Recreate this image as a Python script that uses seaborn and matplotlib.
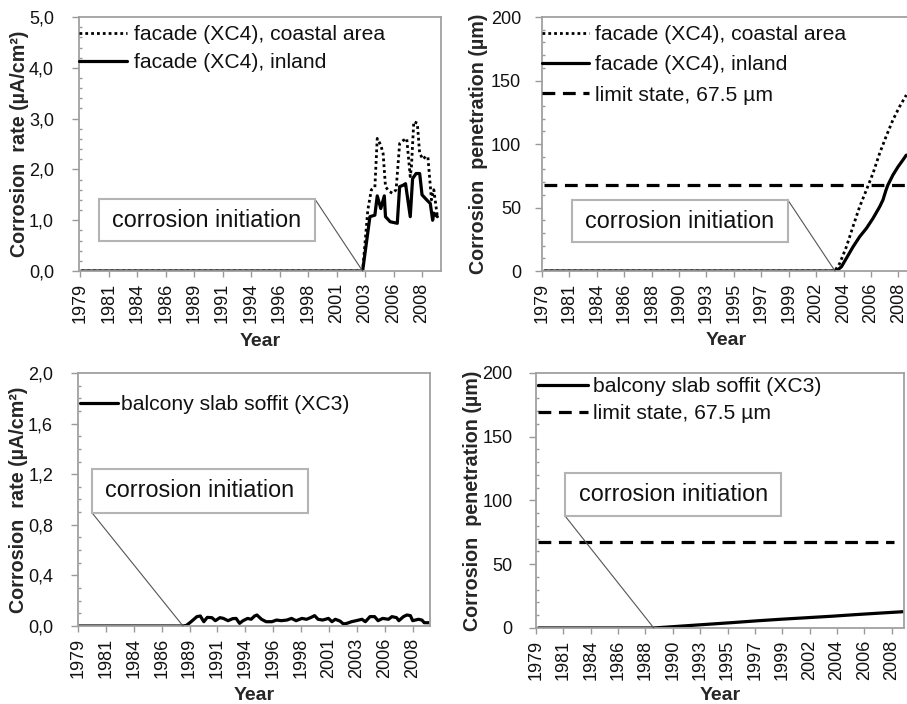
import matplotlib
matplotlib.use('Agg')
import matplotlib.pyplot as plt
from matplotlib.patches import Rectangle
from matplotlib.ticker import FuncFormatter, MultipleLocator
import numpy as np
import seaborn as sns

# --- data ---
ticks_a = ['1979', '1981', '1984', '1986', '1989', '1991', '1994', '1996', '1998',
           '2001', '2003', '2006', '2008']
ticks_b = ['1979', '1981', '1984', '1986', '1988', '1990', '1993', '1995', '1997',
           '1999', '2002', '2004', '2006', '2008']

# facade corrosion rate
coastal_rate_yr = [1979.1, 2002.96, 2003.4, 2003.7, 2004.0, 2004.2, 2004.5, 2004.7, 2004.9,
                   2005.2, 2005.5, 2005.8, 2006.1, 2006.4, 2006.7, 2007.0, 2007.1, 2007.3,
                   2007.6, 2007.8, 2008.1, 2008.3, 2008.5, 2008.8, 2009.0, 2009.3]
coastal_rate = [0, 0, 1.2, 1.6, 1.65, 2.61, 2.48, 2.31, 1.66, 1.57, 1.53, 1.60, 2.51, 2.57,
                2.61, 1.86, 2.05, 2.94, 2.91, 2.31, 2.2, 2.26, 2.24, 1.40, 1.60, 1.07]
inland_rate_yr = [1979.1, 2002.96, 2003.58, 2004.0, 2004.2, 2004.5, 2004.8, 2004.9, 2005.3,
                  2005.9, 2006.1, 2006.4, 2006.6, 2007.0, 2007.2, 2007.5, 2007.8, 2008.0,
                  2008.4, 2008.7, 2008.9, 2009.0, 2009.3]
inland_rate = [0, 0, 1.07, 1.10, 1.48, 1.23, 1.48, 1.07, 0.97, 0.94, 1.66, 1.69, 1.72, 1.07,
               1.82, 1.92, 1.92, 1.50, 1.40, 1.33, 1.0, 1.14, 1.07]

# facade corrosion penetration
coastal_pen_yr = [1979.2, 2002.82, 2003.23, 2003.77, 2004.31, 2004.85, 2005.4, 2005.94,
                  2006.48, 2007.0, 2007.56, 2008.1, 2008.65]
coastal_pen = [0, 0, 6, 19, 35, 50.6, 63.8, 77, 92.7, 105.8, 119, 129.4, 138.6]
inland_pen_yr = [1979.2, 2002.96, 2003.37, 2003.77, 2004.31, 2004.85, 2005.4, 2005.94,
                 2006.48, 2006.75, 2007.0, 2007.15, 2007.56, 2007.97, 2008.37, 2008.65]
inland_pen = [0, 0, 3.4, 10, 19, 27, 33.6, 41.5, 50.6, 56, 63.8, 67.7, 75.6, 82, 87.4, 91.3]

# balcony slab soffit
soffit_rate_yr = [1979.1, 1988.1, 1988.4, 1988.8, 1989.3, 1989.6, 1989.9, 1990.2, 1990.6,
                  1990.9, 1991.3, 1991.6, 1992.0, 1992.4, 1992.7, 1993.0, 1993.3, 1993.7,
                  1994.0, 1994.3, 1994.5, 1994.9, 1995.3, 1995.8, 1996.2, 1996.6, 1997.1,
                  1997.5, 1997.9, 1998.4, 1998.8, 1999.2, 1999.5, 1999.8, 2000.2, 2000.7,
                  2001.0, 2001.3, 2001.7, 2002.0, 2002.3, 2002.7, 2003.1, 2003.6, 2003.9,
                  2004.3, 2004.7, 2005.0, 2005.4, 2005.9, 2006.2, 2006.6, 2006.8, 2007.2,
                  2007.5, 2007.8, 2008.0, 2008.5, 2008.8, 2009.0, 2009.5]
soffit_rate = [0, 0, 0.005, 0.034, 0.074, 0.079, 0.034, 0.068, 0.066, 0.042, 0.066, 0.06,
               0.042, 0.058, 0.06, 0.021, 0.042, 0.06, 0.053, 0.079, 0.087, 0.053, 0.034,
               0.034, 0.047, 0.042, 0.047, 0.06, 0.042, 0.06, 0.053, 0.068, 0.082, 0.053,
               0.047, 0.06, 0.034, 0.053, 0.039, 0.016, 0.021, 0.034, 0.042, 0.053, 0.034,
               0.074, 0.074, 0.042, 0.06, 0.053, 0.074, 0.066, 0.042, 0.074, 0.087, 0.082,
               0.042, 0.053, 0.047, 0.026, 0.026]
soffit_pen_yr = [1979.2, 1988.6, 1990.0, 1992.4, 1995.0, 1997.0, 1998.9, 2001.0, 2003.1,
                 2005.1, 2007.1, 2009.0]
soffit_pen = [0, 0, 0.9, 2.5, 4.2, 5.6, 6.8, 8.0, 9.2, 10.5, 11.7, 12.8]

limit_value = 67.5
limit_yr_top = [1979.2, 2008.9]
limit_yr_bottom = [1979.2, 2008.2]

init_years = [2002.96, 2002.85, 1988.1, 1988.6]

# --- style ---
sns.set_theme(style='white')
plt.rcParams['font.family'] = ['Liberation Sans', 'DejaVu Sans']
plt.rcParams['text.color'] = '#111111'

fig = plt.figure(figsize=(9.07, 7.04), dpi=100)
ax_tl = fig.add_axes([0.0871, 0.615, 0.399, 0.3608])
ax_tr = fig.add_axes([0.5976, 0.615, 0.4057, 0.3608])
ax_bl = fig.add_axes([0.0860, 0.1108, 0.3881, 0.3594])
ax_br = fig.add_axes([0.5910, 0.108, 0.4057, 0.3622])

solid = dict(color='black', linewidth=2.3, linestyle='-')
dotted = dict(color='black', linewidth=2.0, linestyle=(0, (1, 1.1)))
dashed = dict(color='black', linewidth=2.3, linestyle=(0, (4, 2.4)))
common = dict(estimator=None, sort=False)

# top-left
sns.lineplot(x=coastal_rate_yr, y=coastal_rate, ax=ax_tl, label='facade (XC4), coastal area', **dotted, **common)
sns.lineplot(x=inland_rate_yr, y=inland_rate, ax=ax_tl, label='facade (XC4), inland', **solid, **common)
# top-right
sns.lineplot(x=coastal_pen_yr, y=coastal_pen, ax=ax_tr, label='facade (XC4), coastal area', **dotted, **common)
sns.lineplot(x=inland_pen_yr, y=inland_pen, ax=ax_tr, label='facade (XC4), inland', **solid, **common)
sns.lineplot(x=limit_yr_top, y=[limit_value] * len(limit_yr_top), ax=ax_tr,
             label='limit state, 67.5 µm', **dashed, **common)
# bottom-left
sns.lineplot(x=soffit_rate_yr, y=soffit_rate, ax=ax_bl, label='balcony slab soffit (XC3)', **solid, **common)
# bottom-right
sns.lineplot(x=soffit_pen_yr, y=soffit_pen, ax=ax_br, label='balcony slab soffit (XC3)', **solid, **common)
sns.lineplot(x=limit_yr_bottom, y=[limit_value] * len(limit_yr_bottom), ax=ax_br,
             label='limit state, 67.5 µm', **dashed, **common)

comma = FuncFormatter(lambda v, p: f'{v:.1f}'.replace('.', ','))
intfmt = FuncFormatter(lambda v, p: f'{v:.0f}')

setup = [
    # ax, xlim, ticklabels, ylim, major, minor, fmt, ylabel, ypad, ylabel_x, xlabel_y
    (ax_tl, (1978.9, 2009.6), ticks_a, (0, 5), 1.0, 0.2, comma,
     'Corrosion  rate (µA/cm²)', 13, -0.137, -0.244),
    (ax_tr, (1979.0, 2008.95), ticks_b, (0, 200), 50, 10, intfmt,
     'Corrosion  penetration (µm)', 10, -0.148, -0.24),
    (ax_bl, (1979.0, 2009.5), ticks_a, (0, 2.0), 0.4, 0.1, comma,
     'Corrosion  rate (µA/cm²)', 13, -0.143, -0.241),
    (ax_br, (1979.0, 2009.0), ticks_b, (0, 200), 50, 10, intfmt,
     'Corrosion  penetration (µm)', 12, -0.148, -0.231),
]

for ax, xlim, tlabels, ylim, major, minor, fmt, ylabel, ypad, ylx, xly in setup:
    ax.set_xlim(*xlim)
    ax.set_ylim(*ylim)
    ax.set_xticks(np.linspace(1979, 2008, len(tlabels)))
    ax.set_xticklabels(tlabels, rotation=90)
    ax.yaxis.set_major_locator(MultipleLocator(major))
    ax.yaxis.set_minor_locator(MultipleLocator(minor))
    ax.yaxis.set_major_formatter(fmt)
    ax.tick_params(axis='y', which='major', direction='out', length=5, width=1, color='#999999',
                   labelsize=13, pad=ypad, labelcolor='#111111', left=True)
    ax.tick_params(axis='y', which='minor', direction='in', length=2.5, width=1, color='#999999',
                   left=True)
    ax.tick_params(axis='x', which='major', direction='out', length=4.5, width=1, color='#999999',
                   labelsize=13, pad=4, labelcolor='#111111', bottom=True)
    for s in ax.spines.values():
        s.set_color('#a0a0a0')
        s.set_linewidth(1.3)
    ax.set_ylabel(ylabel, fontsize=14.2, fontweight='bold')
    ax.set_xlabel('Year', fontsize=14, fontweight='bold')
    ax.yaxis.set_label_coords(ylx, 0.5)
    ax.xaxis.set_label_coords(0.5, xly)

# legends
leg_cfg = [
    (ax_tl, (0.0, 0.968), 2.27, 0.33, 0.44),
    (ax_tr, (0.0, 0.968), 2.23, 0.28, 0.53),
    (ax_bl, (0.006, 0.913), 1.8, 0.15, 0.2),
    (ax_br, (0.005, 0.984), 2.37, 0.24, 0.39),
]
for ax, anchor, hl, htp, ls in leg_cfg:
    ax.legend(loc='upper left', bbox_to_anchor=anchor, frameon=False, fontsize=15.2,
              handlelength=hl, handletextpad=htp, labelspacing=ls, borderpad=0,
              borderaxespad=0)

# "corrosion initiation" callouts: box (x0, y0, x1, y1) in axes fraction, corner used for leader
callouts = [
    (ax_tl, (0.055, 0.118, 0.652, 0.283), (0.652, 0.283), init_years[0]),
    (ax_tr, (0.0815, 0.114, 0.668, 0.280), (0.668, 0.280), init_years[1]),
    (ax_bl, (0.040, 0.447, 0.653, 0.621), (0.040, 0.447), init_years[2]),
    (ax_br, (0.079, 0.439, 0.666, 0.608), (0.079, 0.439), init_years[3]),
]
for ax, (x0, y0, x1, y1), corner, yr in callouts:
    ax.add_patch(Rectangle((x0, y0), x1 - x0, y1 - y0, transform=ax.transAxes,
                           facecolor='white', edgecolor='#b4b4b4', linewidth=1.5, zorder=4))
    ax.text((x0 + x1) / 2, (y0 + y1) / 2, 'corrosion initiation', transform=ax.transAxes,
            ha='center', va='center', fontsize=16.8, zorder=5)
    ax.annotate('', xy=(yr, 0), xycoords='data', xytext=corner, textcoords='axes fraction',
                arrowprops=dict(arrowstyle='-', color='#555555', lw=0.8, shrinkA=0, shrinkB=0),
                zorder=3)

fig.savefig('out.png', dpi=100)
